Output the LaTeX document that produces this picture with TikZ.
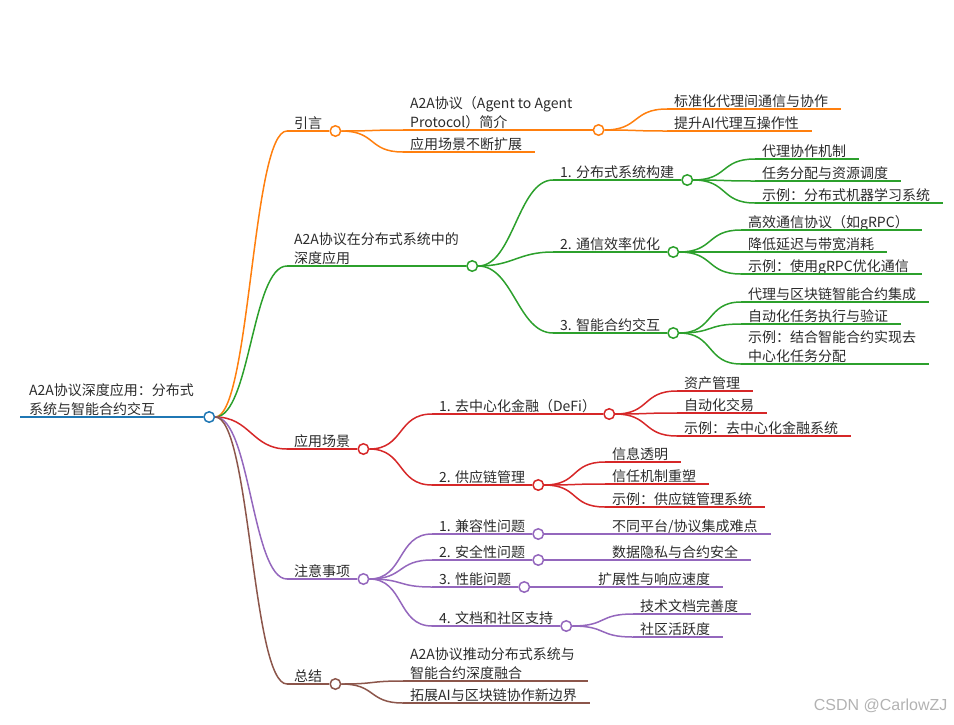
\documentclass[tikz,border=0pt]{standalone}
\usepackage{fontspec}
\setmainfont{Noto Sans CJK SC}
\newfontfamily\markfont{Liberation Sans}
\usetikzlibrary{positioning}
\definecolor{blu}{HTML}{1F77B4}
\definecolor{orn}{HTML}{FF7F0E}
\definecolor{grn}{HTML}{2CA02C}
\definecolor{red}{HTML}{D62728}
\definecolor{pur}{HTML}{9467BD}
\definecolor{brn}{HTML}{8C564B}
\definecolor{txt}{HTML}{2B2B2B}

\tikzset{
  topic/.style={anchor=south west, inner xsep=7pt, inner ysep=0.5pt, text depth=2pt,
    align=left, text=txt, font=\fontsize{14}{19}\selectfont},
  ul/.style={line width=1.5pt},
  dot/.style={circle, draw=#1, fill=white, line width=1.5pt, minimum size=10.5pt,
    inner sep=0pt, anchor=west},
  link/.style={draw=#1, line width=1.5pt, out=0, in=180, distance=35pt},
}

% a topic with its own circle: parent, colour, name, x, y, text
\newcommand{\knot}[6]{%
  \node[topic] (#3) at (#4,#5) {#6};
  \draw[#2, ul] (#3.south west) -- (#3.south east);
  \draw[link=#2] (#1.east) to (#3.south west);
  \node[dot=#2] (c#3) at (#3.south east) {};
}
% leaves of one parent: parent, colour, x, list of name/y/text
\newcommand{\twigs}[4]{%
  \foreach \name/\y/\txt in {#4} {
    \node[topic] (\name) at (#3,\y) {\txt};
    \draw[#2, ul] (\name.south west) -- ([xshift=6pt]\name.south east);
    \draw[link=#2] (#1.east) to (\name.south west);
  }%
}

\begin{document}
\begin{tikzpicture}[x=1pt,y=-1pt]
    \useasboundingbox (0,0) rectangle (954,724);

    % Root of the map
    \node[topic, inner xsep=9pt] (root) at (20,417) {A2A协议深度应用：分布式\\系统与智能合约交互};
    \draw[blu, line width=2pt] (root.south west) -- (root.south east);
    \node[dot=blu] (croot) at (root.south east) {};

    % Introduction
    \knot{croot}{orn}{intro}{287}{131}{引言}
    \knot{cintro}{orn}{introA}{403}{130}{A2A协议（Agent to Agent\hspace*{13pt}\\Protocol）简介}
    \twigs{cintro}{orn}{403}{introB/152/应用场景不断扩展}
    \twigs{cintroA}{orn}{667}{introA1/109/标准化代理间通信与协作, introA2/131/提升AI代理互操作性}

    % Distributed systems
    \knot{croot}{grn}{dist}{287}{266}{A2A协议在分布式系统中的\\深度应用}
    \knot{cdist}{grn}{distA}{553}{180}{1. 分布式系统构建}
    \knot{cdist}{grn}{distB}{553}{252}{2. 通信效率优化}
    \knot{cdist}{grn}{distC}{553}{333}{3. 智能合约交互}
    \twigs{cdistA}{grn}{755}{distA1/159/代理协作机制, distA2/181/任务分配与资源调度,
      distA3/203/示例：分布式机器学习系统}
    \twigs{cdistB}{grn}{741}{distB1/230/高效通信协议（如gRPC）, distB2/252/降低延迟与带宽消耗,
      distB3/274/示例：使用gRPC优化通信}
    \twigs{cdistC}{grn}{741}{distC1/302/代理与区块链智能合约集成, distC2/324/自动化任务执行与验证,
      distC3/364/{示例：结合智能合约实现去\\中心化任务分配}}

    % Use cases
    \knot{croot}{red}{case}{287}{449}{应用场景}
    \knot{ccase}{red}{caseA}{432}{414}{1. 去中心化金融（DeFi）}
    \knot{ccase}{red}{caseB}{432}{485}{2. 供应链管理}
    \twigs{ccaseA}{red}{677}{caseA1/391/资产管理, caseA2/413/自动化交易, caseA3/436/示例：去中心化金融系统}
    \twigs{ccaseB}{red}{605}{caseB1/462/信息透明, caseB2/484/信任机制重塑, caseB3/507/示例：供应链管理系统}

    % Points of attention
    \knot{croot}{pur}{note}{287}{579}{注意事项}
    \knot{cnote}{pur}{noteA}{432}{534}{1. 兼容性问题}
    \knot{cnote}{pur}{noteB}{432}{560}{2. 安全性问题}
    \knot{cnote}{pur}{noteC}{432}{587}{3. 性能问题}
    \knot{cnote}{pur}{noteD}{432}{626}{4. 文档和社区支持}
    \twigs{cnoteA}{pur}{605}{noteA1/534/{不同平台/协议集成难点}}
    \twigs{cnoteB}{pur}{605}{noteB1/560/数据隐私与合约安全}
    \twigs{cnoteC}{pur}{591}{noteC1/587/扩展性与响应速度}
    \twigs{cnoteD}{pur}{633}{noteD1/614/技术文档完善度, noteD2/637/社区活跃度}

    % Summary
    \knot{croot}{brn}{sum}{287}{684}{总结}
    \twigs{csum}{brn}{403}{sumA/681/{A2A协议推动分布式系统与\\智能合约深度融合}, sumB/703/拓展AI与区块链协作新边界}

    % Watermark
    \node[anchor=east, text=black!30, font=\markfont\fontsize{16}{16}\selectfont] (mark) at (951,706) {CSDN @CarlowZJ};
\end{tikzpicture}
\end{document}
